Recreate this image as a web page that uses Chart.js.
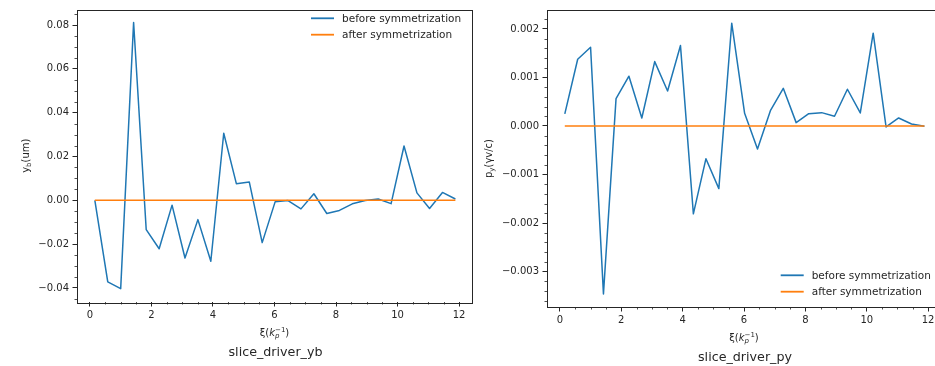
<!DOCTYPE html>
<html>
<head>
<meta charset="utf-8">
<script src="https://cdn.jsdelivr.net/npm/chart.js@4.4.1/dist/chart.umd.min.js"></script>
<style>
  html, body { margin: 0; padding: 0; background: #fff; }
  body { position: relative; width: 935px; height: 366px; overflow: hidden; }
  canvas { position: absolute; top: 0; }
  #ybChart { left: 0; }
  #pyChart { left: 460px; }
</style>
</head>
<body>
<canvas id="ybChart" width="480" height="366"></canvas>
<canvas id="pyChart" width="490" height="366"></canvas>
<script>
// slice positions along the bunch, xi in units of 1/kp
const xi = [0.16, 0.58, 1.00, 1.42, 1.83, 2.25, 2.67, 3.09, 3.51, 3.93, 4.35, 4.76, 5.18, 5.60, 6.02,
            6.44, 6.86, 7.28, 7.70, 8.11, 8.53, 8.95, 9.37, 9.79, 10.21, 10.63, 11.04, 11.46, 11.88];

// slice centroid yb (um)
const ybBefore = [0.0000, -0.0372, -0.0403, 0.0812, -0.0134, -0.0221, -0.0022, -0.0263, -0.0088, -0.0278,
                  0.0306, 0.0076, 0.0084, -0.0193, -0.0007, -0.0001, -0.0039, 0.0030, -0.0060, -0.0046,
                  -0.0016, -0.0001, 0.0006, -0.0015, 0.0248, 0.0034, -0.0037, 0.0036, 0.0006];
const ybAfter = [0, 0, 0, 0, 0, 0, 0, 0, 0, 0, 0, 0, 0, 0, 0, 0, 0, 0, 0, 0, 0, 0, 0, 0, 0, 0, 0, 0, 0];

// slice centroid py (gamma v / c)
const pyBefore = [0.000248, 0.001375, 0.001623, -0.00346, 0.000564, 0.001025, 0.000165, 0.001327, 0.000722,
                  0.001657, -0.00181, -0.000674, -0.00129, 0.002118, 0.000261, -0.000475, 0.000316, 0.000777,
                  0.000069, 0.000254, 0.000275, 0.000200, 0.000757, 0.000268, 0.001912, -0.00002, 0.000165,
                  0.00004, -0.000007];
const pyAfter = [0, 0, 0, 0, 0, 0, 0, 0, 0, 0, 0, 0, 0, 0, 0, 0, 0, 0, 0, 0, 0, 0, 0, 0, 0, 0, 0, 0, 0];

const xiTicks = [0, 2, 4, 6, 8, 10, 12];
const ybTicks = [-0.04, -0.02, 0, 0.02, 0.04, 0.06, 0.08];
const pyTicks = [-0.003, -0.002, -0.001, 0, 0.001, 0.002];

const seriesLabels = ["before symmetrization", "after symmetrization"];

const BLUE = "#1f77b4";
const ORANGE = "#ff7f0e";
const INK = "#262626";
const FONT = '"DejaVu Sans", sans-serif';

function fontOf(size, italic) {
  return (italic ? "italic " : "") + size + "px " + FONT;
}

// draws a label made of pieces (sub/superscripts), centred on cx, baseline at y
function drawRich(ctx, parts, cx, y) {
  let total = 0;
  parts.forEach((p) => {
    ctx.font = fontOf(p.size, p.italic);
    p.w = ctx.measureText(p.t).width;
    if (!p.keep) total += p.w;
  });
  let x = cx - total / 2;
  ctx.textAlign = "left";
  ctx.textBaseline = "alphabetic";
  parts.forEach((p) => {
    ctx.font = fontOf(p.size, p.italic);
    ctx.fillText(p.t, x, y + (p.dy || 0));
    if (!p.keep) x += p.w;
  });
}

const framePlugin = {
  id: "frame",
  afterDraw(chart, args, opts) {
    const { ctx, chartArea: a, scales } = chart;
    ctx.save();

    // minor ticks
    ctx.strokeStyle = INK;
    ctx.lineWidth = 0.8;
    const xs = scales.x, ys = scales.y;
    for (let k = Math.ceil(xs.min / opts.xMinor); k * opts.xMinor <= xs.max; k++) {
      if (k % opts.xEvery === 0) continue;
      const px = Math.round(xs.getPixelForValue(k * opts.xMinor)) + 0.5;
      ctx.beginPath();
      ctx.moveTo(px, a.bottom);
      ctx.lineTo(px, a.bottom + 2.5);
      ctx.stroke();
    }
    for (let k = Math.ceil(ys.min / opts.yMinor); k * opts.yMinor <= ys.max; k++) {
      if (k % opts.yEvery === 0) continue;
      const py = Math.round(ys.getPixelForValue(k * opts.yMinor)) + 0.5;
      ctx.beginPath();
      ctx.moveTo(a.left - 2.5, py);
      ctx.lineTo(a.left, py);
      ctx.stroke();
    }

    // axes box
    ctx.lineWidth = 1;
    ctx.strokeRect(Math.round(a.left) + 0.5, Math.round(a.top) + 0.5,
                   Math.round(a.right - a.left), Math.round(a.bottom - a.top));

    // legend
    const lg = opts.legend;
    chart.data.datasets.forEach((ds, i) => {
      const y = lg.y + i * 16.4;
      ctx.strokeStyle = ds.borderColor;
      ctx.lineWidth = 1.8;
      ctx.beginPath();
      ctx.moveTo(lg.x, y);
      ctx.lineTo(lg.x + 23, y);
      ctx.stroke();
      ctx.fillStyle = INK;
      ctx.font = fontOf(10.5, false);
      ctx.textAlign = "left";
      ctx.textBaseline = "middle";
      ctx.fillText(ds.label, lg.x + 31, y + 0.5);
    });

    ctx.fillStyle = INK;
    const midX = (a.left + a.right) / 2;

    // x-axis label
    drawRich(ctx, [
      { t: "\u03be(", size: 10 },
      { t: "k", size: 10, italic: true },
      { t: "p", size: 7, italic: true, dy: 2.5, keep: true },
      { t: "\u22121", size: 7, dy: -4 },
      { t: ")", size: 10 }
    ], midX, a.bottom + 33.5);

    // caption under each panel
    ctx.font = fontOf(12.7, false);
    ctx.textAlign = "center";
    ctx.textBaseline = "alphabetic";
    ctx.fillText(opts.caption, midX + 1, a.bottom + 54);

    // rotated y-axis label
    ctx.translate(a.left - opts.yLabelGap, (a.top + a.bottom) / 2);
    ctx.rotate(-Math.PI / 2);
    drawRich(ctx, opts.yLabel, 0, 3.5);

    ctx.restore();
  }
};

function makeChart(id, cfg) {
  const points = (arr) => xi.map((x, i) => ({ x, y: arr[i] }));
  const line = (label, arr, color, order) => ({
    label,
    data: points(arr),
    borderColor: color,
    borderWidth: 1.5,
    borderJoinStyle: "round",
    pointRadius: 0,
    tension: 0,
    fill: false,
    order
  });
  const tickFont = { family: FONT, size: 10 };

  return new Chart(document.getElementById(id), {
    type: "line",
    data: {
      datasets: [
        line(seriesLabels[0], cfg.before, BLUE, 1),
        line(seriesLabels[1], cfg.after, ORANGE, 0)
      ]
    },
    options: {
      responsive: false,
      animation: false,
      layout: { padding: cfg.padding },
      plugins: {
        legend: { display: false },
        tooltip: { enabled: false },
        frame: {
          xMinor: 0.5, xEvery: 4,
          yMinor: cfg.yMinor, yEvery: cfg.yEvery,
          legend: cfg.legend,
          caption: cfg.caption,
          yLabel: cfg.yLabel,
          yLabelGap: cfg.yLabelGap
        }
      },
      scales: {
        x: {
          type: "linear",
          min: -0.42,
          max: 12.42,
          afterBuildTicks: (s) => { s.ticks = xiTicks.map((v) => ({ value: v })); },
          afterFit: (s) => { s.height = cfg.xHeight; },
          ticks: { font: tickFont, color: INK, padding: 3, maxRotation: 0, callback: (v) => String(v) },
          grid: { drawOnChartArea: false, drawTicks: true, tickLength: 4.5, tickColor: INK, tickWidth: 1 },
          border: { display: false }
        },
        y: {
          type: "linear",
          min: cfg.yMin,
          max: cfg.yMax,
          afterBuildTicks: (s) => { s.ticks = cfg.yTicks.map((v) => ({ value: v })); },
          afterFit: (s) => { s.width = cfg.yWidth; },
          ticks: {
            font: tickFont, color: INK, padding: 3.5,
            callback: (v) => (v < 0 ? "\u2212" : "") + Math.abs(v).toFixed(cfg.digits)
          },
          grid: { drawOnChartArea: false, drawTicks: true, tickLength: 4.5, tickColor: INK, tickWidth: 1 },
          border: { display: false }
        }
      }
    },
    plugins: [framePlugin]
  });
}

makeChart("ybChart", {
  before: ybBefore, after: ybAfter,
  yTicks: ybTicks, yMin: -0.0464, yMax: 0.0871, digits: 2,
  yMinor: 0.005, yEvery: 4,
  padding: { left: 0, right: 8, top: 4, bottom: 0 },
  yWidth: 77, xHeight: 64,
  legend: { x: 311, y: 18.3 },
  caption: "slice_driver_yb",
  yLabelGap: 52,
  yLabel: [
    { t: "y", size: 10 },
    { t: "b", size: 7, dy: 2.5 },
    { t: "(um)", size: 10 }
  ]
});

makeChart("pyChart", {
  before: pyBefore, after: pyAfter,
  yTicks: pyTicks, yMin: -0.00373, yMax: 0.00239, digits: 3,
  yMinor: 0.0002, yEvery: 5,
  padding: { left: 0, right: 9, top: 10, bottom: 0 },
  yWidth: 87, xHeight: 59,
  legend: { x: 320.7, y: 275.3 },
  caption: "slice_driver_py",
  yLabelGap: 59,
  yLabel: [
    { t: "p", size: 10 },
    { t: "y", size: 7, dy: 2.5 },
    { t: "(\u03b3v/c)", size: 10 }
  ]
});
</script>
</body>
</html>
